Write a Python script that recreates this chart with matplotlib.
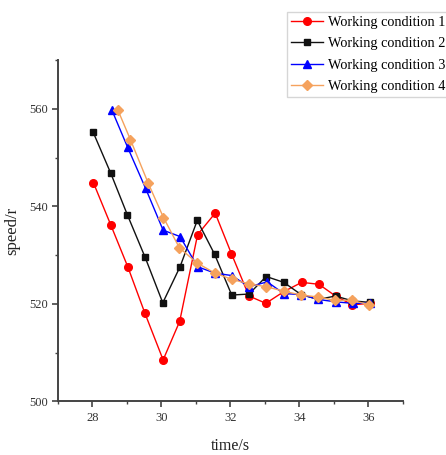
import numpy as np
import matplotlib
matplotlib.use('Agg')
import matplotlib.pyplot as plt
from matplotlib.ticker import MultipleLocator

plt.rcParams['font.family'] = ['Liberation Serif', 'DejaVu Serif']

labels = ['Working condition 1', 'Working condition 2', 'Working condition 3', 'Working condition 4']

t1 = [28.03, 28.53, 29.03, 29.52, 30.05, 30.53, 31.05, 31.56, 32.03, 32.54, 33.03, 33.55, 34.07, 34.57, 35.05, 35.54, 36.05]
v1 = [544.8, 536.2, 527.5, 518.1, 508.5, 516.4, 534.2, 538.6, 530.3, 521.6, 520.1, 522.5, 524.4, 524.0, 521.6, 519.8, 520.1]

t2 = [28.02, 28.53, 29.01, 29.53, 30.04, 30.54, 31.04, 31.54, 32.04, 32.54, 33.04, 33.55, 34.05, 34.55, 35.05, 35.54, 36.04]
v2 = [555.2, 546.8, 538.3, 529.5, 520.2, 527.6, 537.1, 530.2, 521.8, 522.0, 525.6, 524.4, 521.9, 520.9, 521.6, 520.6, 520.3]

t3 = [28.56, 29.02, 29.54, 30.05, 30.54, 31.05, 31.55, 32.04, 32.54, 33.07, 33.55, 34.05, 34.55, 35.05, 35.55, 36.05]
v3 = [559.8, 552.1, 543.7, 535.1, 533.8, 527.6, 526.3, 525.8, 523.5, 524.5, 522.1, 521.9, 520.9, 520.4, 520.1, 520.1]

t4 = [28.74, 29.1, 29.62, 30.06, 30.52, 31.03, 31.55, 32.05, 32.54, 33.04, 33.55, 34.05, 34.55, 35.03, 35.54, 36.02]
v4 = [559.7, 553.7, 544.7, 537.7, 531.5, 528.4, 526.3, 525.0, 524.1, 523.5, 522.6, 521.8, 521.4, 520.7, 520.7, 519.8]

fig = plt.figure(figsize=(4.46, 4.55), dpi=100)
ax = fig.add_axes([0.130, 0.118, 0.773, 0.750])

ax.plot(t1, v1, color='#ff0000', marker='o', ms=5.5, lw=1, label=labels[0])
ax.plot(t2, v2, color='#111111', marker='s', ms=5, lw=1, label=labels[1])
ax.plot(t3, v3, color='#0000ff', marker='^', ms=6, lw=1, label=labels[2])
ax.plot(t4, v4, color='#f5a25d', marker='D', ms=5, lw=1, label=labels[3])

ax.set_xlim(27, 37)
ax.set_ylim(500, 570)
ax.xaxis.set_major_locator(MultipleLocator(2))
ax.xaxis.set_minor_locator(MultipleLocator(1))
ax.yaxis.set_major_locator(MultipleLocator(20))
ax.yaxis.set_minor_locator(MultipleLocator(10))
ax.spines['top'].set_visible(False)
ax.spines['right'].set_visible(False)
for s in ['left', 'bottom']:
    ax.spines[s].set_color('#444444')
    ax.spines[s].set_linewidth(1.4)
ax.tick_params(which='major', length=4, width=1.2, color='#444444', labelsize=9, labelcolor='#333333')
ax.tick_params(which='minor', length=2, width=1, color='#444444')

ax.set_xlabel('time/s', fontsize=11.5, color='#222222', labelpad=10)
ax.set_ylabel('speed/r', fontsize=12, color='#222222', labelpad=6)

leg = fig.legend(loc='upper left', bbox_to_anchor=(287 / 446, 1 - 12 / 455), fontsize=10.3,
                 frameon=True, fancybox=False, edgecolor='#cccccc', borderpad=0.25,
                 handlelength=2.3, handletextpad=0.3, labelspacing=0.6, borderaxespad=0)
leg.get_frame().set_linewidth(1)

fig.savefig('out.png', dpi=100)
